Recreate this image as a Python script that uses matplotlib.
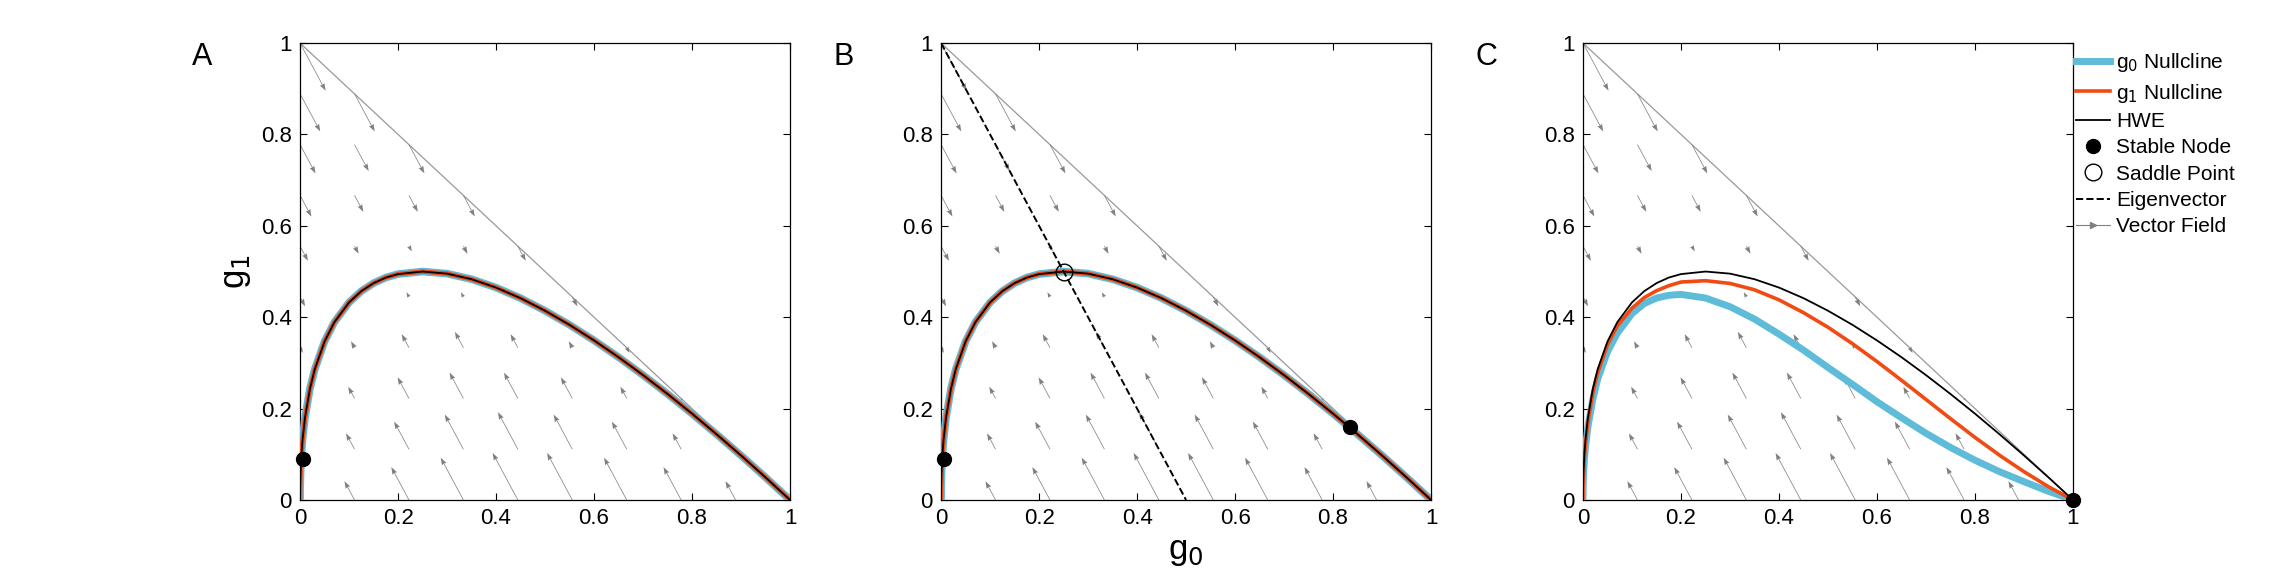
import numpy as np
import matplotlib
matplotlib.use("Agg")
import matplotlib.pyplot as plt
from matplotlib.lines import Line2D

plt.rcParams['font.family'] = ['Liberation Sans', 'DejaVu Sans']

# HWE curve (also g0/g1 nullclines in A, B)
hwe_g0 = [0, 0.0002, 0.001, 0.003, 0.005, 0.01, 0.02, 0.03, 0.05, 0.07, 0.1, 0.125, 0.15,
          0.175, 0.2, 0.25, 0.3, 0.35, 0.4, 0.45, 0.5,
          0.55, 0.6, 0.65, 0.7, 0.75, 0.8, 0.85, 0.9, 0.95, 1.0]
hwe_g1 = [0, 0.0280, 0.0612, 0.1035, 0.1314, 0.18, 0.2429, 0.2864, 0.347, 0.3892, 0.4325,
          0.4571, 0.4746, 0.4868, 0.4944, 0.5, 0.4954, 0.4832,
          0.4649, 0.4417, 0.4142, 0.3833, 0.3492, 0.3125, 0.2733, 0.232, 0.1889, 0.1439,
          0.0974, 0.0494, 0.0]
# Panel C nullclines
c_g0 = [0, 0.0002, 0.001, 0.003, 0.005, 0.01, 0.02, 0.03, 0.05, 0.07, 0.1, 0.125, 0.15,
        0.175, 0.2, 0.25, 0.3, 0.35, 0.4, 0.45, 0.5,
        0.55, 0.6, 0.65, 0.7, 0.75, 0.8, 0.85, 0.9, 0.95, 1.0]
c_null0 = [0, 0.025, 0.055, 0.09, 0.115, 0.16, 0.22, 0.265, 0.325, 0.365, 0.408, 0.430,
           0.442, 0.448, 0.45, 0.442, 0.423, 0.396, 0.363,
           0.328, 0.29, 0.253, 0.215, 0.18, 0.146, 0.115, 0.087, 0.062, 0.04, 0.019, 0.0]
c_null1 = [0, 0.027, 0.058, 0.097, 0.123, 0.17, 0.235, 0.279, 0.34, 0.381, 0.42, 0.443,
           0.458, 0.469, 0.477, 0.48, 0.474, 0.46, 0.438,
           0.41, 0.378, 0.342, 0.303, 0.262, 0.22, 0.178, 0.137, 0.098, 0.062, 0.029, 0.0]

stable = {'A': [(0.005, 0.09)], 'B': [(0.005, 0.09), (0.835, 0.16)], 'C': [(1.0, 0.0)]}
saddle = {'B': [(0.25, 0.5)]}
eig_x = [0.0, 0.5]
eig_y = [1.0, 0.0]

ticks = [0, 0.2, 0.4, 0.6, 0.8, 1]
ticklabels = ['0', '0.2', '0.4', '0.6', '0.8', '1']

# vector field grid (random-mating dynamics)
gv = np.arange(10) / 9.0
GX, GY = np.meshgrid(gv, gv)
mask = GX + GY <= 1.0 + 1e-9
P = GX + GY / 2
U = P**2 - GX
V = 2 * P * (1 - P) - GY
X, Y, U, V = GX[mask], GY[mask], U[mask], V[mask]

fig = plt.figure(figsize=(22.82, 5.88), dpi=100)
lefts = [0.1315, 0.4124, 0.6937]
blue = '#5fbcd9'
red = '#f24a13'
for i, name in enumerate(['A', 'B', 'C']):
    ax = fig.add_axes([lefts[i], 0.1497, 0.2147, 0.777])
    ax.plot([0, 1], [1, 0], color='#999999', lw=0.9, zorder=1)
    ax.quiver(X, Y, U, V, angles='xy', scale_units='xy', scale=4.8, color='#808080',
              width=0.0015, headwidth=7, headlength=10, headaxislength=9, zorder=2)
    if name == 'C':
        ax.plot(c_g0, c_null0, color=blue, lw=5, zorder=3, solid_capstyle='round')
        ax.plot(c_g0, c_null1, color=red, lw=2.6, zorder=4)
        ax.plot(hwe_g0, hwe_g1, color='black', lw=1.3, zorder=5)
    else:
        ax.plot(hwe_g0, hwe_g1, color=blue, lw=5.5, zorder=3)
        ax.plot(hwe_g0, hwe_g1, color=red, lw=3.2, zorder=4)
        ax.plot(hwe_g0, hwe_g1, color='black', lw=1.3, zorder=5)
    if name == 'B':
        ax.plot(eig_x, eig_y, color='black', ls='--', lw=1.4, zorder=6)
        for (sx, sy) in saddle['B']:
            ax.plot(sx, sy, 'o', mfc='none', mec='black', ms=12, mew=1.0, zorder=7)
    for (sx, sy) in stable[name]:
        ax.plot(sx, sy, 'o', color='black', ms=10, zorder=8, clip_on=False)
    ax.set_xlim(0, 1)
    ax.set_ylim(0, 1)
    ax.set_xticks(ticks)
    ax.set_xticklabels(ticklabels)
    ax.set_yticks(ticks)
    ax.set_yticklabels(ticklabels)
    ax.tick_params(direction='in', labelsize=16, length=5, top=True, right=True, pad=6)
    for s in ax.spines.values():
        s.set_linewidth(0.9)
    ax.text(-0.22, 0.97, name, transform=ax.transAxes, fontsize=22, ha='left', va='center')
    if name == 'A':
        ax.set_ylabel('g$_1$', fontsize=25, labelpad=6)
    if name == 'B':
        ax.set_xlabel('g$_0$', fontsize=25, labelpad=4)
    if name == 'C':
        handles = [
            Line2D([], [], color=blue, lw=5),
            Line2D([], [], color=red, lw=2.6),
            Line2D([], [], color='black', lw=1.3),
            Line2D([], [], ls='none', marker='o', color='black', ms=10),
            Line2D([], [], ls='none', marker='o', mfc='none', mec='black', ms=12),
            Line2D([], [], color='black', ls='--', lw=1.4),
            Line2D([], [], color='#808080', lw=0.8, marker='>', ms=4, markevery=[1]),
        ]
        labels = ['g$_0$ Nullcline', 'g$_1$ Nullcline', 'HWE', 'Stable Node',
                  'Saddle Point', 'Eigenvector', 'Vector Field']
        ax.legend(handles, labels, loc='upper left', bbox_to_anchor=(0.99, 1.0),
                  frameon=False, fontsize=15, handlelength=1.6, handletextpad=0.3,
                  labelspacing=0.35, borderaxespad=0.0)

fig.savefig('out.png', dpi=100)
